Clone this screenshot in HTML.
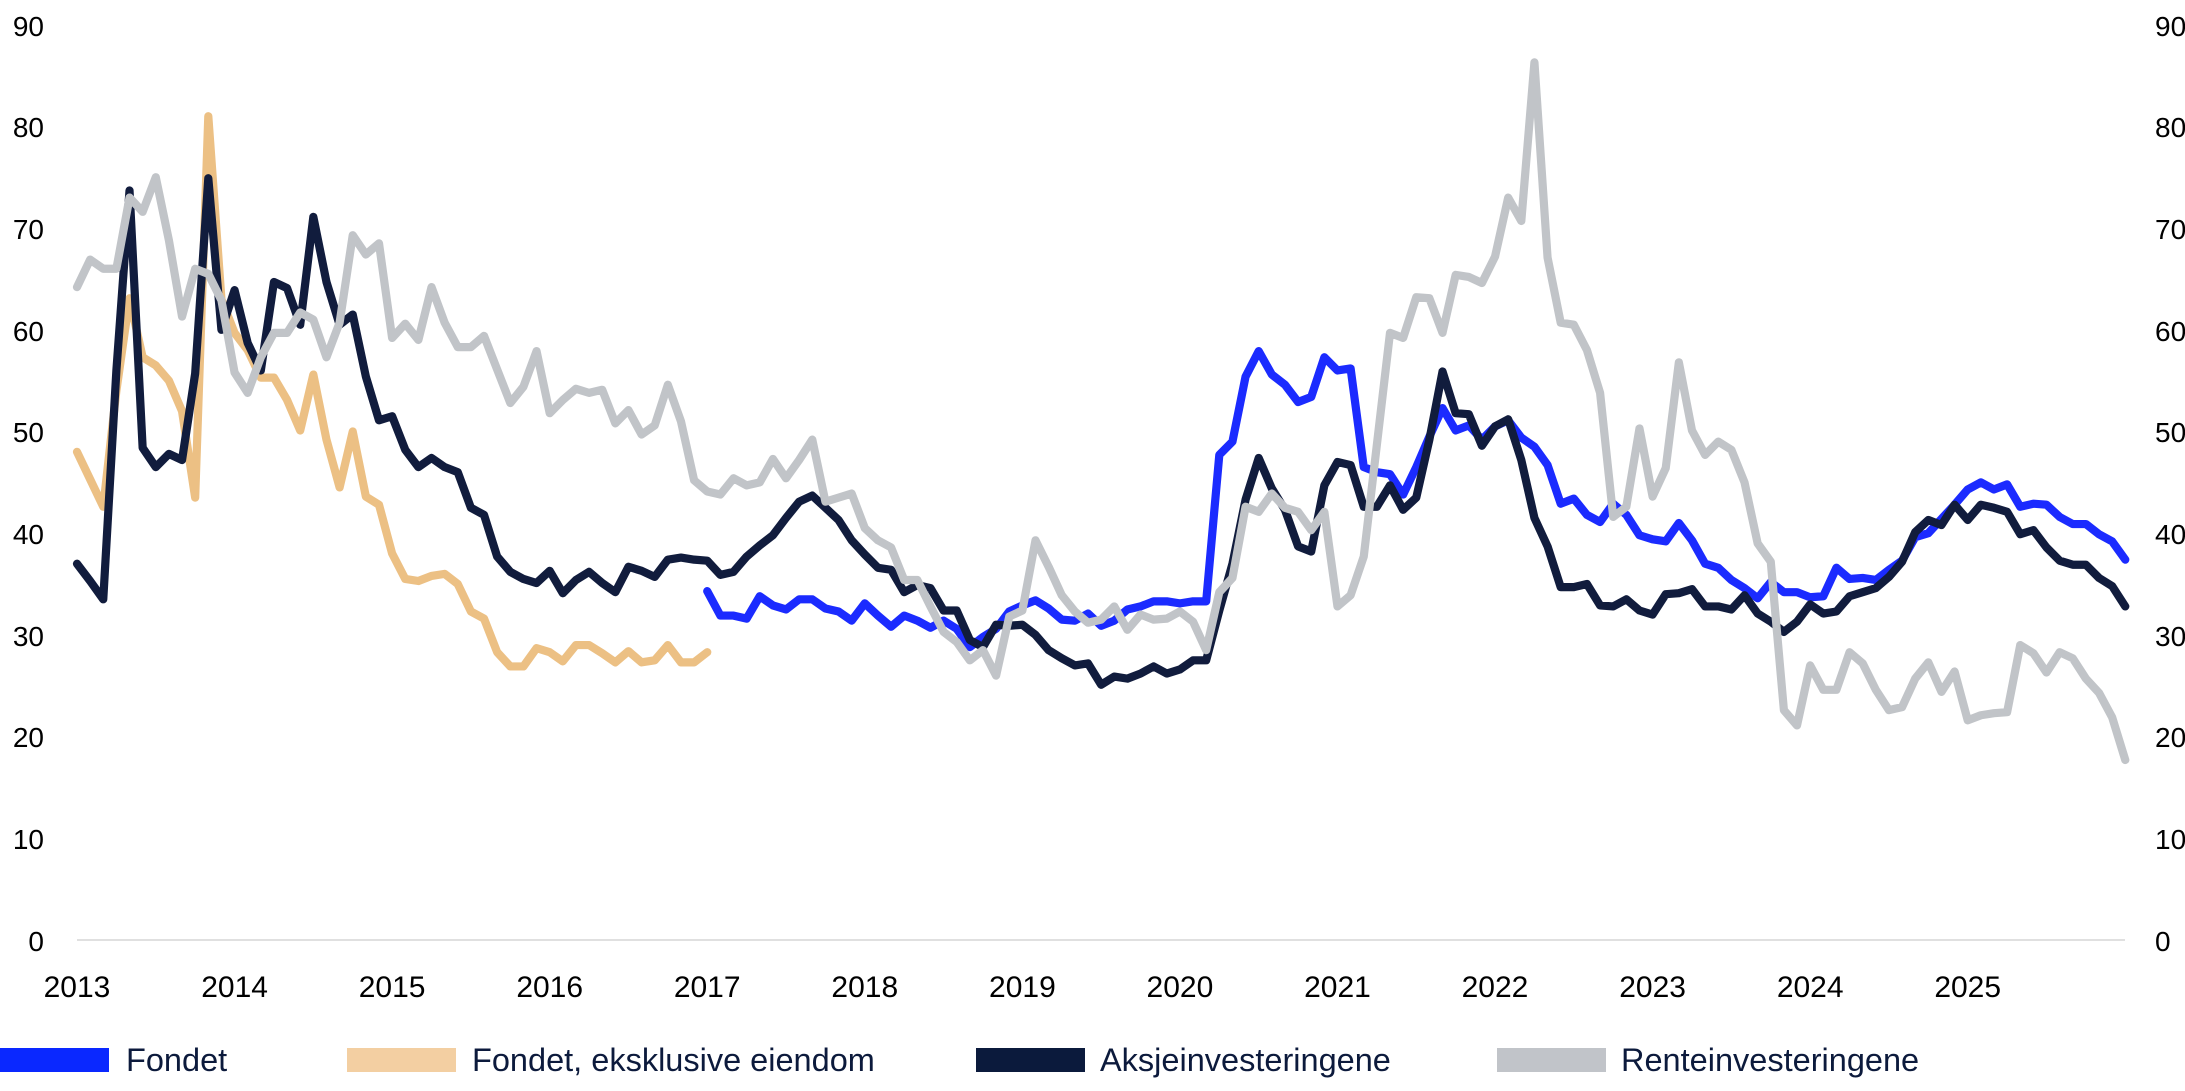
<!DOCTYPE html>
<html>
<head>
<meta charset="utf-8">
<style>
  html, body { margin: 0; padding: 0; background: #ffffff; }
  body { width: 2185px; height: 1091px; overflow: hidden; }
  svg { display: block; }
  .yl { font-family: "Liberation Sans", sans-serif; font-size: 28px; fill: #000; }
  .xl { font-family: "Liberation Sans", sans-serif; font-size: 30px; fill: #000; }
  .lg { font-family: "Liberation Sans", sans-serif; font-size: 32.5px; fill: #0c1a3c; }
  .ln { fill: none; stroke-width: 8.2; stroke-linejoin: round; stroke-linecap: round; }
</style>
</head>
<body>
<svg width="2185" height="1091" viewBox="0 0 2185 1091" xmlns="http://www.w3.org/2000/svg">
  <rect x="0" y="0" width="2185" height="1091" fill="#ffffff"/>

  <line x1="77" y1="940" x2="2125" y2="940" stroke="#d6d6d6" stroke-width="1.6"/>

  <g class="yl" text-anchor="end">
    <text x="44" y="951">0</text>
    <text x="44" y="849">10</text>
    <text x="44" y="747">20</text>
    <text x="44" y="646">30</text>
    <text x="44" y="544">40</text>
    <text x="44" y="442">50</text>
    <text x="44" y="341">60</text>
    <text x="44" y="239">70</text>
    <text x="44" y="137">80</text>
    <text x="44" y="36">90</text>
  </g>
  <g class="yl" text-anchor="start">
    <text x="2155" y="951">0</text>
    <text x="2155" y="849">10</text>
    <text x="2155" y="747">20</text>
    <text x="2155" y="646">30</text>
    <text x="2155" y="544">40</text>
    <text x="2155" y="442">50</text>
    <text x="2155" y="341">60</text>
    <text x="2155" y="239">70</text>
    <text x="2155" y="137">80</text>
    <text x="2155" y="36">90</text>
  </g>

  <g class="xl" text-anchor="middle">
    <text x="77" y="997">2013</text>
    <text x="234.6" y="997">2014</text>
    <text x="392.1" y="997">2015</text>
    <text x="549.7" y="997">2016</text>
    <text x="707.2" y="997">2017</text>
    <text x="864.8" y="997">2018</text>
    <text x="1022.4" y="997">2019</text>
    <text x="1179.9" y="997">2020</text>
    <text x="1337.5" y="997">2021</text>
    <text x="1495" y="997">2022</text>
    <text x="1652.6" y="997">2023</text>
    <text x="1810.2" y="997">2024</text>
    <text x="1967.7" y="997">2025</text>
  </g>

  <g transform="translate(77,940) scale(13.13,-10.17)">
    <polyline class="ln" vector-effect="non-scaling-stroke" stroke="#ecc084" points="0,48 1,45.3 2,42.6 3,54 4,63.1 5,57.3 6,56.5 7,55 8,52 9,43.5 10,81 11,63 12,59.7 13,58 14,55.3 15,55.3 16,53.1 17,50.1 18,55.6 19,49.2 20,44.5 21,50 22,43.6 23,42.8 24,38 25,35.5 26,35.3 27,35.8 28,36 29,35 30,32.3 31,31.6 32,28.3 33,26.9 34,26.9 35,28.7 36,28.3 37,27.4 38,29 39,29 40,28.2 41,27.3 42,28.4 43,27.3 44,27.5 45,29 46,27.3 47,27.3 48,28.3"/>
    <polyline class="ln" vector-effect="non-scaling-stroke" stroke="#1b2bff" points="48,34.3 49,31.9 50,31.9 51,31.6 52,33.8 53,32.9 54,32.5 55,33.5 56,33.5 57,32.6 58,32.3 59,31.4 60,33.1 61,31.9 62,30.8 63,31.9 64,31.4 65,30.7 66,31.4 67,30.6 68,28.8 69,29.8 70,30.6 71,32.3 72,32.9 73,33.4 74,32.6 75,31.5 76,31.4 77,32.1 78,30.9 79,31.4 80,32.5 81,32.8 82,33.3 83,33.3 84,33.1 85,33.3 86,33.3 87,47.7 88,49 89,55.4 90,57.9 91,55.6 92,54.6 93,52.9 94,53.4 95,57.3 96,56 97,56.2 98,46.5 99,46 100,45.8 101,43.8 102,46.5 103,49.5 104,52.3 105,50.1 106,50.6 107,49.2 108,50.5 109,51.1 110,49.4 111,48.5 112,46.7 113,42.9 114,43.4 115,41.8 116,41.1 117,42.9 118,41.8 119,39.8 120,39.4 121,39.2 122,41 123,39.3 124,37 125,36.6 126,35.4 127,34.6 128,33.6 129,35.2 130,34.2 131,34.2 132,33.7 133,33.8 134,36.6 135,35.5 136,35.6 137,35.4 138,36.4 139,37.3 140,39.6 141,40 142,41.4 143,42.8 144,44.3 145,45 146,44.3 147,44.8 148,42.6 149,42.9 150,42.8 151,41.6 152,40.9 153,40.9 154,39.9 155,39.2 156,37.4"/>
    <polyline class="ln" vector-effect="non-scaling-stroke" stroke="#111c3d" points="0,37 1,35.3 2,33.5 3,56 4,73.7 5,48.4 6,46.5 7,47.8 8,47.2 9,55.7 10,74.9 11,60 12,63.9 13,58.7 14,56 15,64.7 16,64.1 17,60.5 18,71.1 19,64.7 20,60.5 21,61.5 22,55.4 23,51.1 24,51.5 25,48.2 26,46.5 27,47.4 28,46.5 29,46 30,42.5 31,41.8 32,37.7 33,36.2 34,35.5 35,35.1 36,36.3 37,34.1 38,35.4 39,36.2 40,35.1 41,34.2 42,36.7 43,36.3 44,35.7 45,37.4 46,37.6 47,37.4 48,37.3 49,35.9 50,36.2 51,37.7 52,38.8 53,39.8 54,41.5 55,43.1 56,43.7 57,42.5 58,41.3 59,39.3 60,37.9 61,36.6 62,36.4 63,34.2 64,34.9 65,34.6 66,32.4 67,32.4 68,29.5 69,28.8 70,31 71,30.9 72,31 73,30 74,28.5 75,27.7 76,27 77,27.2 78,25.1 79,25.9 80,25.7 81,26.2 82,26.9 83,26.2 84,26.6 85,27.5 86,27.5 87,32.4 88,37 89,43.3 90,47.4 91,44.4 92,42.3 93,38.7 94,38.2 95,44.7 96,47 97,46.7 98,42.6 99,42.6 100,44.7 101,42.3 102,43.5 103,49.2 104,55.9 105,51.8 106,51.7 107,48.6 108,50.5 109,51.2 110,47.2 111,41.5 112,38.7 113,34.7 114,34.7 115,35 116,32.9 117,32.8 118,33.5 119,32.4 120,32 121,34 122,34.1 123,34.5 124,32.8 125,32.8 126,32.5 127,33.9 128,32.1 129,31.3 130,30.3 131,31.3 132,33 133,32.1 134,32.3 135,33.8 136,34.2 137,34.6 138,35.7 139,37.2 140,40.1 141,41.3 142,40.8 143,42.8 144,41.3 145,42.8 146,42.5 147,42.1 148,39.9 149,40.3 150,38.6 151,37.3 152,36.9 153,36.9 154,35.6 155,34.8 156,32.8"/>
    <polyline class="ln" vector-effect="non-scaling-stroke" stroke="#c1c4c8" points="0,64.2 1,66.9 2,66 3,66 4,73 5,71.6 6,75 7,68.8 8,61.3 9,66 10,65.5 11,62.9 12,55.8 13,53.8 14,57.3 15,59.7 16,59.7 17,61.7 18,61 19,57.3 20,60.7 21,69.3 22,67.4 23,68.5 24,59.2 25,60.6 26,59 27,64.2 28,60.7 29,58.3 30,58.3 31,59.4 32,56.1 33,52.8 34,54.4 35,57.9 36,51.8 37,53.1 38,54.2 39,53.8 40,54.1 41,50.8 42,52.1 43,49.7 44,50.6 45,54.6 46,51 47,45.2 48,44.1 49,43.8 50,45.4 51,44.7 52,45 53,47.3 54,45.4 55,47.2 56,49.2 57,43.1 58,43.5 59,43.9 60,40.5 61,39.3 62,38.6 63,35.4 64,35.4 65,32.8 66,30.3 67,29.3 68,27.5 69,28.5 70,26 71,31.8 72,32.4 73,39.3 74,36.7 75,33.9 76,32.3 77,31.2 78,31.5 79,32.8 80,30.5 81,32 82,31.5 83,31.6 84,32.3 85,31.3 86,28.5 87,34.2 88,35.6 89,42.6 90,42.1 91,43.9 92,42.5 93,42.1 94,40.3 95,42.1 96,32.8 97,33.9 98,37.7 99,48.7 100,59.7 101,59.2 102,63.2 103,63.1 104,59.7 105,65.4 106,65.2 107,64.6 108,67.2 109,73 110,70.7 111,86.3 112,67.1 113,60.7 114,60.5 115,58 116,53.8 117,41.6 118,42.6 119,50.3 120,43.6 121,46.4 122,56.8 123,50.1 124,47.7 125,49 126,48.2 127,45 128,39 129,37.2 130,22.6 131,21.1 132,27 133,24.6 134,24.6 135,28.3 136,27.2 137,24.6 138,22.6 139,22.9 140,25.7 141,27.3 142,24.4 143,26.4 144,21.6 145,22.1 146,22.3 147,22.4 148,29 149,28.2 150,26.3 151,28.3 152,27.7 153,25.7 154,24.3 155,21.9 156,17.7"/>
  </g>

  <rect x="0" y="1048" width="109" height="24" fill="#0a28ff"/>
  <text class="lg" x="126" y="1071">Fondet</text>
  <rect x="347" y="1048" width="109" height="24" fill="#f3cfa2"/>
  <text class="lg" x="472" y="1071">Fondet, eksklusive eiendom</text>
  <rect x="976" y="1048" width="109" height="24" fill="#0b1a3c"/>
  <text class="lg" x="1100" y="1071">Aksjeinvesteringene</text>
  <rect x="1497" y="1048" width="109" height="24" fill="#c1c4c9"/>
  <text class="lg" x="1621" y="1071">Renteinvesteringene</text>
</svg>
</body>
</html>
